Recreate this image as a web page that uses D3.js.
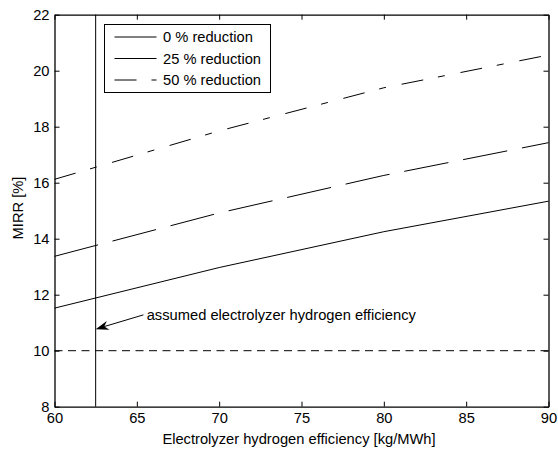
<!DOCTYPE html>
<html lang="en">
<head>
  <meta charset="UTF-8">
  <title>MIRR vs electrolyzer efficiency</title>
  <script src="https://cdn.jsdelivr.net/npm/d3@7"></script>
  <style>
    html, body {
      margin: 0;
      padding: 0;
      background: #fff;
    }
    svg text {
      font-family: "Liberation Sans", Arial, sans-serif;
      font-size: 14.7px;
      fill: #000;
    }
  </style>
</head>
<body>
  <svg id="chart" width="558" height="451"></svg>
  <script>
    // efficiency sweep [kg/MWh] and resulting MIRR [%] per cost reduction case
    const efficiency = [60, 70, 80, 90];
    const mirr0 = [11.52, 12.97, 14.25, 15.34];
    const mirr25 = [13.37, 14.92, 16.26, 17.43];
    const mirr50 = [16.12, 17.85, 19.39, 20.56];
    const seriesNames = ['0 % reduction', '25 % reduction', '50 % reduction'];

    const xTicks = [60, 65, 70, 75, 80, 85, 90];
    const yTicks = [8, 10, 12, 14, 16, 18, 20, 22];

    const assumedEff = 62.5;
    const targetMirr = 10;
    const note = 'assumed electrolyzer hydrogen efficiency';
    const noteAt = [65.6, 11.08];
    const arrowFrom = [65.4, 11.28];
    const arrowTo = [62.5, 10.77];

    const svg = d3.select('#chart');
    const plot = {left: 54.5, right: 548.5, top: 14.7, bottom: 406.7};

    const x = d3.scaleLinear().domain([60, 90]).range([plot.left, plot.right]);
    const y = d3.scaleLinear().domain([8, 22]).range([plot.bottom, plot.top]);

    // axes, matlab style: ticks pointing inwards, box all round
    const g = svg.append('g');
    g.append('g')
      .attr('transform', `translate(0,${plot.bottom})`)
      .call(d3.axisBottom(x).tickValues(xTicks).tickSize(-5).tickSizeOuter(0).tickPadding(6));
    g.append('g')
      .attr('transform', `translate(${plot.left},0)`)
      .call(d3.axisLeft(y).tickValues(yTicks).tickSize(-5).tickSizeOuter(0).tickPadding(5));
    g.append('g')
      .attr('transform', `translate(0,${plot.top})`)
      .call(d3.axisTop(x).tickValues(xTicks).tickSize(-5).tickSizeOuter(0).tickFormat(''));
    g.append('g')
      .attr('transform', `translate(${plot.right},0)`)
      .call(d3.axisRight(y).tickValues(yTicks).tickSize(-5).tickSizeOuter(0).tickFormat(''));
    g.selectAll('.domain').attr('stroke', '#000').attr('stroke-width', 1.3);
    g.selectAll('.tick line').attr('stroke', '#000');
    g.selectAll('.tick text')
      .attr('font-family', '"Liberation Sans", Arial, sans-serif')
      .attr('font-size', 14.7)
      .attr('fill', '#000');

    const dashes = [null, '45,15', '22,15,7,16'];
    const series = [mirr0, mirr25, mirr50];

    const line = d3.line()
      .x((d, i) => x(efficiency[i]))
      .y(d => y(d));

    svg.append('g')
      .selectAll('path')
      .data(series)
      .join('path')
      .attr('d', line)
      .attr('fill', 'none')
      .attr('stroke', '#000')
      .attr('stroke-width', 1)
      .attr('stroke-dasharray', (d, i) => dashes[i]);

    // reference lines
    svg.append('line')
      .attr('x1', x(assumedEff)).attr('x2', x(assumedEff))
      .attr('y1', y(8)).attr('y2', y(22))
      .attr('stroke', '#000');
    svg.append('line')
      .attr('x1', x(60)).attr('x2', x(90))
      .attr('y1', y(targetMirr)).attr('y2', y(targetMirr))
      .attr('stroke', '#000')
      .attr('stroke-dasharray', '8,5.5');

    // annotation arrow
    const ax0 = x(arrowFrom[0]), ay0 = y(arrowFrom[1]);
    const ax1 = x(arrowTo[0]), ay1 = y(arrowTo[1]);
    const len = Math.hypot(ax1 - ax0, ay1 - ay0);
    const ux = (ax1 - ax0) / len, uy = (ay1 - ay0) / len;
    const head = 13, half = 4.5, notch = 9;
    svg.append('line')
      .attr('x1', ax0).attr('y1', ay0)
      .attr('x2', ax1 - ux * notch).attr('y2', ay1 - uy * notch)
      .attr('stroke', '#000');
    svg.append('path')
      .attr('d', d3.line()([
        [ax1, ay1],
        [ax1 - ux * head - uy * half, ay1 - uy * head + ux * half],
        [ax1 - ux * notch, ay1 - uy * notch],
        [ax1 - ux * head + uy * half, ay1 - uy * head - ux * half]
      ]) + 'Z')
      .attr('fill', '#000');
    svg.append('text')
      .attr('x', x(noteAt[0]))
      .attr('y', y(noteAt[1]))
      .text(note);

    // axis titles
    svg.append('text')
      .attr('x', 299)
      .attr('y', 443.5)
      .attr('text-anchor', 'middle')
      .text('Electrolyzer hydrogen efficiency [kg/MWh]');
    svg.append('text')
      .attr('transform', 'translate(23,208) rotate(-90)')
      .attr('text-anchor', 'middle')
      .text('MIRR [%]');

    // legend
    const legend = svg.append('g').attr('transform', 'translate(104.5,24.5)');
    legend.append('rect')
      .attr('width', 166).attr('height', 68)
      .attr('fill', '#fff')
      .attr('stroke', '#000');
    const rows = legend.selectAll('g.row')
      .data(seriesNames)
      .join('g')
      .attr('class', 'row')
      .attr('transform', (d, i) => `translate(0,${12.5 + i * 21.5})`);
    rows.append('line')
      .attr('x1', 10).attr('x2', 52)
      .attr('stroke', '#000')
      .attr('stroke-dasharray', (d, i) => dashes[i]);
    rows.append('text')
      .attr('x', 58.5)
      .attr('dy', '0.35em')
      .text(d => d);
  </script>
</body>
</html>
